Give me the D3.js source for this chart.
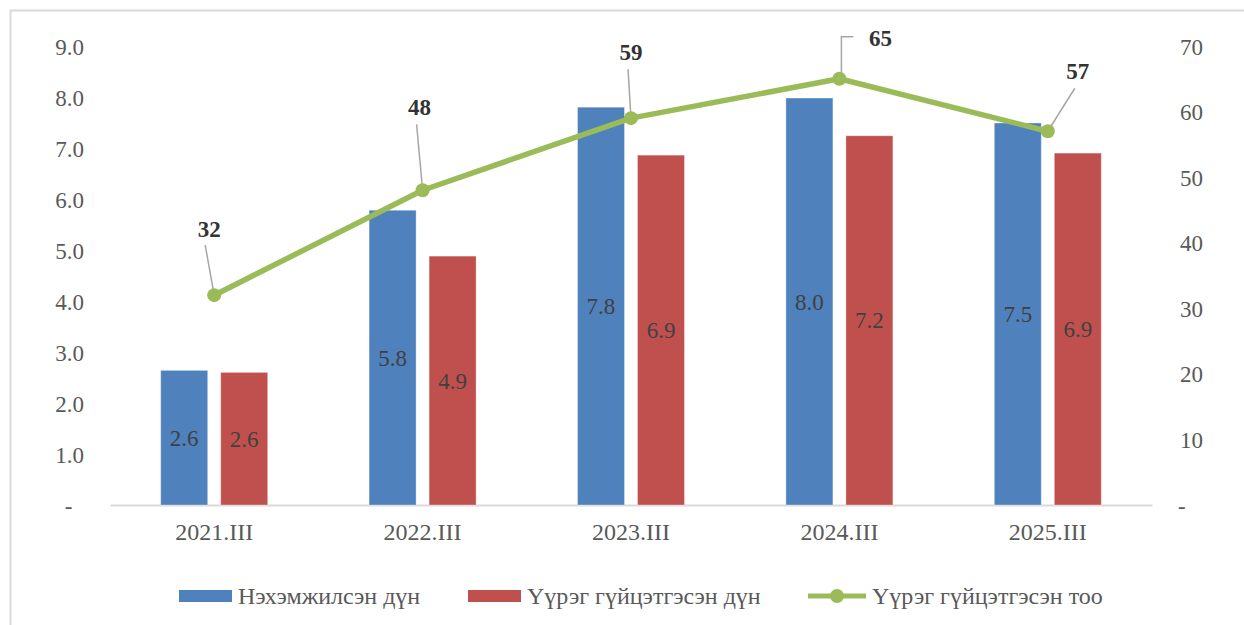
<!DOCTYPE html>
<html>
<head>
<meta charset="utf-8">
<script src="https://cdn.jsdelivr.net/npm/d3@7"></script>
<style>
  body { margin: 0; background: #fff; }
  text { font-family: "Liberation Serif", "DejaVu Serif", "Times New Roman", serif; white-space: pre; }
</style>
</head>
<body>
<div id="chart"></div>
<script>
// data
let categories = ["2021.III", "2022.III", "2023.III", "2024.III", "2025.III"];
let seriesNames = ["Нэхэмжилсэн дүн", "Үүрэг гүйцэтгэсэн дүн", "Үүрэг гүйцэтгэсэн тоо"];
let claimed = [2.64, 5.78, 7.80, 7.98, 7.49];
let fulfilled = [2.60, 4.88, 6.86, 7.24, 6.90];
let counts = [32, 48, 59, 65, 57];
let leftTicks = [0, 1, 2, 3, 4, 5, 6, 7, 8, 9];
let rightTicks = [0, 10, 20, 30, 40, 50, 60, 70];

// label offsets for the line labels (leader lines)
let labelPos = [
  { dx: -5, dy: -58, lx: -9, ly: -50 },
  { dx: -3, dy: -75, lx: -6, ly: -66 },
  { dx: 0, dy: -58, lx: -3, ly: -49 },
  { dx: 41, dy: -33, lx: 14, ly: -42, elbow: true },
  { dx: 30, dy: -52, lx: 27, ly: -43 },
];

let colors = ["#4F81BD", "#C0504D", "#9BBB59"];
let W = 1244, H = 625;

let svg = d3.select("#chart").append("svg")
  .attr("width", W)
  .attr("height", H);

// chart border
svg.append("rect")
  .attr("x", 10.5).attr("y", 10.5)
  .attr("width", 1260).attr("height", 640)
  .attr("fill", "none")
  .attr("stroke", "#d9d9d9")
  .attr("stroke-width", 2);

let plot = { left: 110, right: 1152, top: 46, bottom: 505 };

let x = d3.scaleBand().domain(categories).range([plot.left, plot.right]);
let xSub = d3.scaleBand().domain([0, 1]).range([0, x.bandwidth()])
  .paddingInner(0.2167).paddingOuter(0.845);
let yL = d3.scaleLinear().domain([0, 9]).range([plot.bottom, plot.top]);
let yR = d3.scaleLinear().domain([0, 70]).range([plot.bottom, plot.top]);

// left axis
let leftAxis = svg.append("g")
  .attr("transform", `translate(${84},0)`)
  .call(d3.axisLeft(yL).tickValues(leftTicks).tickSize(0)
    .tickFormat((d) => (d === 0 ? "-  " : d3.format(".1f")(d))));
leftAxis.select(".domain").remove();
leftAxis.selectAll("text")
  .attr("x", 0).attr("dy", "0.35em")
  .attr("font-size", 23).attr("fill", "#595959");

// right axis
let rightAxis = svg.append("g")
  .attr("transform", `translate(${1203},0)`)
  .call(d3.axisLeft(yR).tickValues(rightTicks).tickSize(0)
    .tickFormat((d) => (d === 0 ? "-   " : d)));
rightAxis.select(".domain").remove();
rightAxis.selectAll("text")
  .attr("x", 0).attr("dy", "0.35em")
  .attr("font-size", 23).attr("fill", "#595959");

// bottom axis
let bottomAxis = svg.append("g")
  .attr("transform", `translate(0,${plot.bottom})`)
  .call(d3.axisBottom(x).tickSize(0).tickPadding(18));
bottomAxis.select(".domain").attr("stroke", "#d9d9d9").attr("stroke-width", 2);
bottomAxis.selectAll("text")
  .attr("font-size", 24).attr("fill", "#595959");

// bars
let barSeries = [claimed, fulfilled];
barSeries.forEach((vals, s) => {
  let g = svg.append("g");
  g.selectAll("rect")
    .data(vals)
    .join("rect")
    .attr("x", (d, i) => x(categories[i]) + xSub(s))
    .attr("y", (d) => yL(d))
    .attr("width", xSub.bandwidth())
    .attr("height", (d) => yL(0) - yL(d))
    .attr("fill", colors[s])
    .attr("stroke", "rgba(255,255,255,0.35)")
    .attr("stroke-width", 1);
  g.selectAll("text")
    .data(vals)
    .join("text")
    .attr("x", (d, i) => x(categories[i]) + xSub(s) + xSub.bandwidth() / 2)
    .attr("y", (d) => (yL(d) + yL(0)) / 2)
    .attr("dy", "0.35em")
    .attr("text-anchor", "middle")
    .attr("font-size", 23)
    .attr("fill", "#404040")
    .text((d) => d3.format(".1f")(d));
});

// line
let pts = counts.map((c, i) => ({ x: x(categories[i]) + x.bandwidth() / 2, y: yR(c), v: c }));
let line = d3.line().x((d) => d.x).y((d) => d.y);

// leader lines
pts.forEach((p, i) => {
  let o = labelPos[i];
  let d;
  if (o.elbow) {
    d = `M${p.x + o.lx},${p.y + o.ly}H${p.x + 2}V${p.y}`;
  } else {
    d = `M${p.x + o.lx},${p.y + o.ly}L${p.x},${p.y}`;
  }
  svg.append("path")
    .attr("d", d)
    .attr("fill", "none")
    .attr("stroke", "#a6a6a6")
    .attr("stroke-width", 1.5);
});

svg.append("path")
  .datum(pts)
  .attr("d", line)
  .attr("fill", "none")
  .attr("stroke", colors[2])
  .attr("stroke-width", 5.5)
  .attr("stroke-linejoin", "round");

svg.selectAll(".pt")
  .data(pts)
  .join("circle")
  .attr("class", "pt")
  .attr("cx", (d) => d.x)
  .attr("cy", (d) => d.y)
  .attr("r", 7)
  .attr("fill", colors[2]);

svg.selectAll(".lbl")
  .data(pts)
  .join("text")
  .attr("class", "lbl")
  .attr("x", (d, i) => d.x + labelPos[i].dx)
  .attr("y", (d, i) => d.y + labelPos[i].dy)
  .attr("text-anchor", "middle")
  .attr("font-size", 23)
  .attr("font-weight", "bold")
  .attr("fill", "#333333")
  .text((d) => d.v);

// legend
let legend = svg.append("g").attr("transform", "translate(0,596)");
let legX = [179, 468, 808];
seriesNames.forEach((name, i) => {
  let g = legend.append("g").attr("transform", `translate(${legX[i]},0)`);
  if (i < 2) {
    g.append("rect")
      .attr("x", 0).attr("y", -6)
      .attr("width", 53).attr("height", 12)
      .attr("fill", colors[i]);
  } else {
    g.append("line")
      .attr("x1", 0).attr("x2", 58)
      .attr("stroke", colors[2]).attr("stroke-width", 5);
    g.append("circle").attr("cx", 29).attr("r", 7).attr("fill", colors[2]);
  }
  g.append("text")
    .attr("x", i < 2 ? 59 : 64)
    .attr("dy", "0.35em")
    .attr("font-size", 24)
    .attr("fill", "#595959")
    .text(name);
});
</script>
</body>
</html>
